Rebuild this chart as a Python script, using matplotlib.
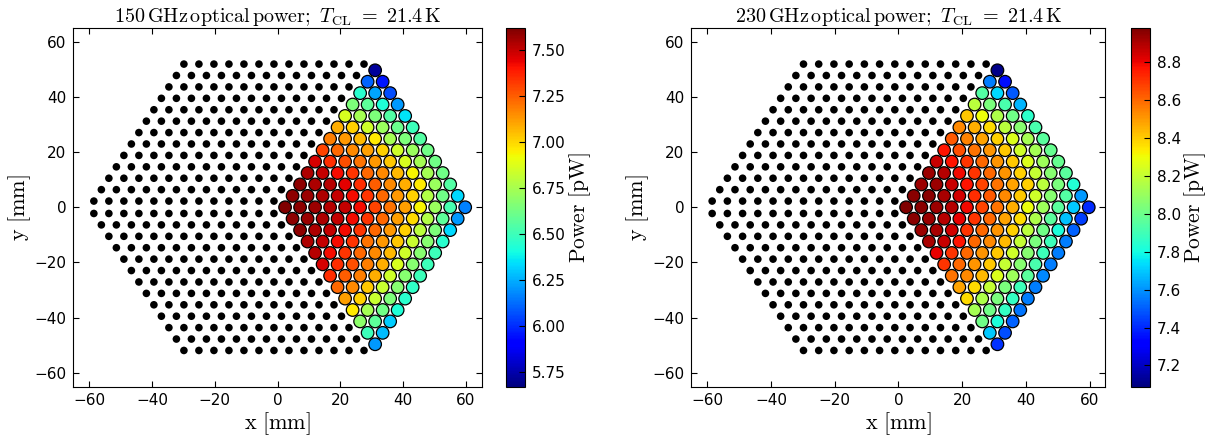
import numpy as np
import matplotlib
matplotlib.use("Agg")
import matplotlib.pyplot as plt

plt.rcParams['mathtext.fontset'] = 'cm'
plt.rcParams['font.family'] = ['DejaVu Sans']

# ---------------- data ----------------
# Measured rhombus, rows from top (y>0) to bottom; values in pW
power_150_rows = [
    [5.72],
    [6.11, 5.96],
    [6.45, 6.23, 6.06],
    [6.65, 6.57, 6.43, 6.21],
    [6.86, 6.74, 6.65, 6.55, 6.35],
    [7.08, 7.01, 6.84, 6.72, 6.60, 6.50],
    [7.18, 7.13, 7.06, 6.96, 6.74, 6.65, 6.55],
    [7.30, 7.23, 7.16, 7.11, 7.01, 6.84, 6.72, 6.62],
    [7.47, 7.35, 7.28, 7.20, 7.13, 7.03, 6.86, 6.74, 6.62],
    [7.54, 7.50, 7.42, 7.33, 7.23, 7.16, 7.06, 6.94, 6.74, 6.62],
    [7.59, 7.54, 7.52, 7.45, 7.35, 7.25, 7.16, 7.08, 6.96, 6.72, 6.55],
    [7.59, 7.57, 7.54, 7.50, 7.42, 7.33, 7.23, 7.13, 7.01, 6.77, 6.62, 6.33],
    [7.62, 7.59, 7.57, 7.52, 7.50, 7.42, 7.30, 7.20, 7.11, 6.94, 6.72, 6.52, 6.16],
    [7.59, 7.57, 7.54, 7.50, 7.42, 7.33, 7.23, 7.11, 6.99, 6.77, 6.57, 6.21],
    [7.59, 7.54, 7.50, 7.42, 7.33, 7.23, 7.13, 7.01, 6.79, 6.65, 6.33],
    [7.54, 7.50, 7.42, 7.33, 7.20, 7.13, 7.03, 6.82, 6.67, 6.45],
    [7.52, 7.42, 7.33, 7.23, 7.16, 7.06, 6.84, 6.67, 6.50],
    [7.47, 7.35, 7.28, 7.18, 7.08, 6.86, 6.67, 6.50],
    [7.35, 7.25, 7.18, 7.08, 6.84, 6.67, 6.50],
    [7.23, 7.16, 7.03, 6.82, 6.67, 6.47],
    [7.11, 7.01, 6.82, 6.65, 6.45],
    [6.96, 6.74, 6.62, 6.43],
    [6.69, 6.57, 6.31],
    [6.50, 6.28],
    [6.21],
]

power_230_rows = [
    [7.11],
    [7.56, 7.35],
    [7.94, 7.73, 7.49],
    [8.18, 8.03, 7.92, 7.66],
    [8.41, 8.30, 8.15, 8.01, 7.85],
    [8.53, 8.46, 8.37, 8.18, 8.06, 7.92],
    [8.63, 8.55, 8.48, 8.39, 8.25, 8.13, 7.96],
    [8.77, 8.65, 8.58, 8.51, 8.41, 8.22, 8.13, 7.99],
    [8.86, 8.77, 8.70, 8.60, 8.51, 8.41, 8.25, 8.11, 7.99],
    [8.93, 8.89, 8.79, 8.70, 8.60, 8.51, 8.39, 8.20, 8.06, 7.96],
    [8.93, 8.93, 8.86, 8.77, 8.67, 8.58, 8.48, 8.39, 8.18, 8.03, 7.83],
    [8.96, 8.96, 8.91, 8.84, 8.72, 8.63, 8.53, 8.41, 8.22, 8.06, 7.94, 7.61],
    [8.98, 8.96, 8.93, 8.89, 8.79, 8.67, 8.58, 8.46, 8.29, 8.11, 7.96, 7.70, 7.40],
    [8.96, 8.93, 8.89, 8.81, 8.70, 8.60, 8.48, 8.37, 8.15, 7.96, 7.68, 7.44],
    [8.93, 8.91, 8.84, 8.70, 8.60, 8.51, 8.39, 8.18, 8.01, 7.82, 7.51],
    [8.91, 8.86, 8.77, 8.60, 8.53, 8.44, 8.20, 8.03, 7.89, 7.56],
    [8.81, 8.70, 8.60, 8.51, 8.41, 8.22, 8.06, 7.89, 7.56],
    [8.70, 8.60, 8.51, 8.41, 8.20, 8.06, 7.92, 7.56],
    [8.58, 8.53, 8.44, 8.25, 8.11, 7.96, 7.58],
    [8.48, 8.37, 8.20, 8.03, 7.89, 7.56],
    [8.37, 8.15, 8.03, 7.87, 7.56],
    [8.13, 8.01, 7.87, 7.54],
    [8.01, 7.82, 7.51],
    [7.70, 7.47],
    [7.42],
]

bands = ['150', '230']
color_limits = [(5.672, 7.618), (7.089, 8.98)]
cbar_ticks = [[5.75, 6.00, 6.25, 6.50, 6.75, 7.00, 7.25, 7.50],
              [7.2, 7.4, 7.6, 7.8, 8.0, 8.2, 8.4, 8.6, 8.8]]
cbar_formats = ['%.2f', '%.1f']
axis_ticks = [-60, -40, -20, 0, 20, 40, 60]
t_cl = '21.4'

# ---------------- array geometry ----------------
PITCH = 4.78
ROW = PITCH * np.sqrt(3) / 2
X0_MEAS = 2.4      # left vertex of measured rhombus
X0_DARK = -58.5    # left edge of the two dark rhombi
Y0_DARK = 2.25     # first row offset of the dark rhombi
N = 13


def measured_positions():
    xs, ys = [], []
    for r in range(2 * N - 1):
        d = abs((N - 1) - r)
        y = ((N - 1) - r) * ROW
        for k in range(N - d):
            xs.append(X0_MEAS + d * PITCH / 2 + k * PITCH)
            ys.append(y)
    return np.array(xs), np.array(ys)


def dark_positions():
    xs, ys = [], []
    for j in range(N):
        for k in range(N):
            x = X0_DARK + j * PITCH / 2 + k * PITCH
            y = Y0_DARK + j * ROW
            xs += [x, x]
            ys += [y, -y]
    return np.array(xs), np.array(ys)


fig = plt.figure(figsize=(12.08, 4.36), dpi=100)
ax_rects = [[0.0608, 0.1135, 0.3379, 0.8222], [0.5724, 0.1135, 0.3427, 0.8222]]
cax_rects = [[0.4189, 0.1135, 0.0157, 0.8222], [0.9363, 0.1135, 0.0157, 0.8222]]

mx, my = measured_positions()
dx, dy = dark_positions()

for i, rows in enumerate([power_150_rows, power_230_rows]):
    vals = np.concatenate([np.array(r, dtype=float) for r in rows])
    ax = fig.add_axes(ax_rects[i])
    cax = fig.add_axes(cax_rects[i])
    ax.scatter(dx, dy, s=30, c='k', edgecolors='none', zorder=2)
    vmin, vmax = color_limits[i]
    sc = ax.scatter(mx, my, s=82, c=vals, cmap='jet', vmin=vmin, vmax=vmax,
                    edgecolors='k', linewidths=0.9, zorder=3)
    ax.set_xlim(-65, 65)
    ax.set_ylim(-65, 65)
    ax.set_xticks(axis_ticks)
    ax.set_yticks(axis_ticks)
    ax.tick_params(direction='in', top=True, right=True, labelsize=11,
                   length=4, width=0.8, pad=5)
    ax.set_xlabel(r'$\mathrm{x\ [mm]}$', fontsize=16, labelpad=1)
    ax.set_ylabel(r'$\mathrm{y\ [mm]}$', fontsize=16, labelpad=1)
    ax.set_title(r'$%s\,\mathrm{GHz\,optical\,power;}\ T_{\mathrm{CL}}\ =\ %s\,\mathrm{K}$'
                 % (bands[i], t_cl), fontsize=14.5, pad=4)
    cb = fig.colorbar(sc, cax=cax, ticks=cbar_ticks[i], format=cbar_formats[i])
    cb.ax.tick_params(direction='in', labelsize=11, length=4, width=0.8, pad=5)
    cb.set_label(r'$\mathrm{Power\ [pW]}$', fontsize=15.5, labelpad=1)

fig.savefig('out.png', dpi=100)
